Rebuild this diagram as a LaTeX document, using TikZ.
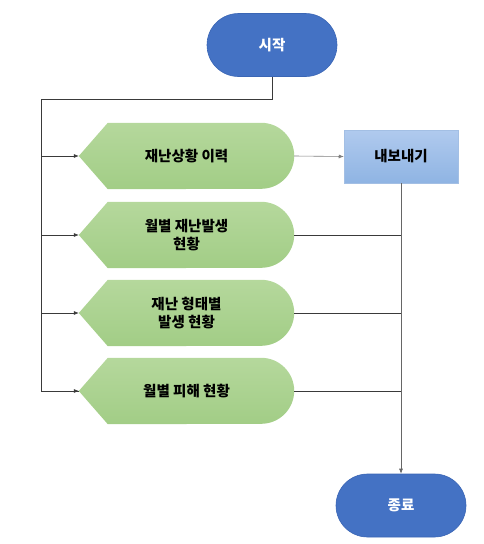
\documentclass[tikz,border=0pt]{standalone}
\usepackage{fontspec}
\newfontfamily\kr{Noto Sans CJK KR}
\usetikzlibrary{shapes.misc,arrows.meta,backgrounds}
\definecolor{tblue}{HTML}{4472C4}
\definecolor{tblueline}{HTML}{3B66B5}
\definecolor{gtop}{HTML}{B5D89C}
\definecolor{gbot}{HTML}{A2CD86}
\definecolor{btop}{HTML}{B0CAEE}
\definecolor{bbot}{HTML}{8FB4E3}
\definecolor{bline}{HTML}{A3BFE4}
\definecolor{conn}{HTML}{3A3A3A}
\tikzset{
  term/.style={rounded rectangle, minimum width=130pt, minimum height=63pt, inner sep=0pt,
    fill=tblue, draw=tblueline, line width=0.6pt, text=white, font=\kr\bfseries\fontsize{14.5}{17}\selectfont},
  disp/.style={minimum width=215pt, minimum height=66pt, inner sep=0pt, align=center,
    font=\kr\bfseries\fontsize{14.5}{17.5}\selectfont},
  expbox/.style={minimum width=114pt, minimum height=53pt, inner sep=0pt, top color=btop, bottom color=bbot,
    draw=bline, line width=0.5pt, font=\kr\bfseries\fontsize{14.5}{17}\selectfont},
  conline/.style={draw=conn, line width=0.6pt},
  arr/.style={conline, -{Latex[length=5pt,width=4pt]}}
}
\begin{document}
\begin{tikzpicture}[x=1pt,y=-1pt]
\useasboundingbox (0,0) rectangle (484,544);
\node[term] (start) at (272,45) {시작};
\node[disp] (d1) at (186.5,156) {재난상황 이력};
\node[disp] (d2) at (186.5,235) {월별 재난발생\\현황};
\node[disp] (d3) at (186.5,313) {재난 형태별\\발생 현황};
\node[disp] (d4) at (186.5,391) {월별 피해 현황};
\node[expbox] (exp) at (401,156.5) {내보내기};
\node[term] (end) at (401,505.5) {종료};
\begin{scope}[on background layer]
\foreach \n in {d1,d2,d3,d4}{
  \path[top color=gtop, bottom color=gbot]
    (\n.west) -- ([xshift=29pt]\n.north west) -- ([xshift=-33pt]\n.north east)
    arc[start angle=90,end angle=-90,radius=33pt]
    -- ([xshift=29pt]\n.south west) -- cycle;
}
\end{scope}
\coordinate (bt) at (41,99);
\draw[conline, line width=1pt] (start.south) |- (bt);
\draw[conline] (bt) |- (d4.west);
\foreach \n in {d1,d2,d3,d4}{
  \draw[arr] (bt) |- (\n.west);
}
\draw[arr, draw=gray] (d1.east) -- (exp.west);
\foreach \n in {d2,d3,d4}{
  \draw[conline] (\n.east) -- (\n.east -| exp.south);
}
\draw[arr, draw=gray!80!black] (exp.south) -- (end.north);
\end{tikzpicture}
\end{document}
